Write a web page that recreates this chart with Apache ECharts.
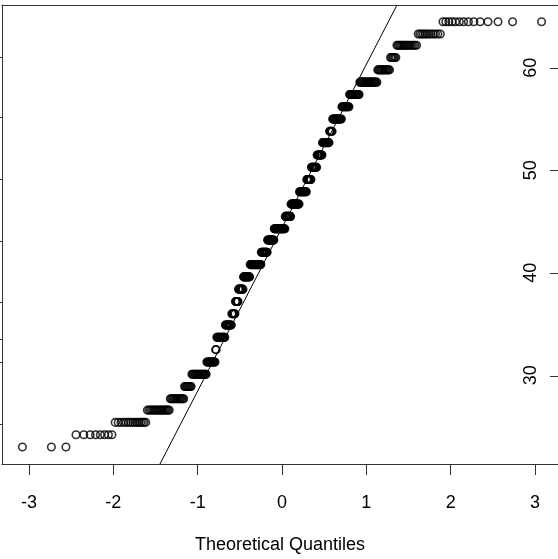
<!DOCTYPE html>
<html>
<head>
<meta charset="utf-8">
<title>Normal Q-Q Plot</title>
<script src="https://cdn.jsdelivr.net/npm/echarts@6/dist/echarts.min.js"></script>
<style>
  html, body { margin: 0; padding: 0; background: #fff; }
  #chart { width: 558px; height: 559px; }
</style>
</head>
<body>
<div id="chart"></div>
<script>
// Distinct sample values (sorted) and how many observations sit at each one.
const sampleLevels = [
  23.0, 24.2, 25.4, 26.6, 27.7, 28.9, 30.1, 31.3, 32.5, 33.7,
  34.9, 36.0, 37.2, 38.4, 39.6, 40.8, 42.0, 43.2, 44.3, 45.5,
  46.7, 47.9, 49.1, 50.3, 51.5, 52.7, 53.8, 55.0, 56.2, 57.4,
  58.6, 59.8, 61.0, 62.2, 63.3, 64.5
];
const sampleCounts = [
  3, 8, 15, 18, 15, 9, 21, 14, 2, 15,
  12, 7, 6, 10, 14, 24, 14, 15, 25, 13,
  19, 16, 10, 12, 11, 14, 6, 17, 13, 16,
  24, 14, 6, 16, 12, 14
];

// Reference line: two points on it (theoretical quantile, sample value).
const refLineQ = [-1.447, 1.364];
const refLineV = [21.34, 66.13];

// Axis ticks and labels.
const xTicks = [-3, -2, -1, 0, 1, 2, 3];
const yTicks = [30, 40, 50, 60];
const leftTicks = [25.24, 31.28, 33.52, 37.12, 43.06, 49.09, 55.13, 61.07];
const xTitle = 'Theoretical Quantiles';

// Inverse standard normal CDF (Acklam's rational approximation).
function qnorm(p) {
  const a = [-3.969683028665376e+01, 2.209460984245205e+02, -2.759285104469687e+02,
             1.383577518672690e+02, -3.066479806614716e+01, 2.506628277459239e+00];
  const b = [-5.447609879822406e+01, 1.615858368580409e+02, -1.556989798598866e+02,
             6.680131188771972e+01, -1.328068155288572e+01];
  const c = [-7.784894002430293e-03, -3.223964580411365e-01, -2.400758277161838e+00,
             -2.549732539343734e+00, 4.374664141464968e+00, 2.938163982698783e+00];
  const d = [7.784695709041462e-03, 3.224671290700398e-01, 2.445134137142996e+00,
             3.754408661907416e+00];
  const pl = 0.02425, ph = 1 - pl;
  let q, r;
  if (p < pl) {
    q = Math.sqrt(-2 * Math.log(p));
    return (((((c[0]*q+c[1])*q+c[2])*q+c[3])*q+c[4])*q+c[5]) /
           ((((d[0]*q+d[1])*q+d[2])*q+d[3])*q+1);
  }
  if (p <= ph) {
    q = p - 0.5; r = q * q;
    return (((((a[0]*r+a[1])*r+a[2])*r+a[3])*r+a[4])*r+a[5])*q /
           (((((b[0]*r+b[1])*r+b[2])*r+b[3])*r+b[4])*r+1);
  }
  q = Math.sqrt(-2 * Math.log(1 - p));
  return -(((((c[0]*q+c[1])*q+c[2])*q+c[3])*q+c[4])*q+c[5]) /
          ((((d[0]*q+d[1])*q+d[2])*q+d[3])*q+1);
}

// Expand the sorted sample and pair each value with its plotting position.
const sorted = [];
sampleLevels.forEach((v, i) => { for (let k = 0; k < sampleCounts[i]; k++) sorted.push(v); });
const n = sorted.length;
const qqPoints = sorted.map((v, i) => [qnorm((i + 0.5) / n), v]);

const FONT = '"Liberation Sans", Arial, sans-serif';
const AXIS_COLOR = '#333';

const chart = echarts.init(document.getElementById('chart'), null, { renderer: 'canvas' });
chart.setOption({
  animation: false,
  backgroundColor: '#fff',
  grid: [
    // Main plotting panel.
    { left: 2, right: 0, top: 5, bottom: 94, containLabel: false },
    // Narrow strip at the right edge spanning 30..60; its split lines form the value ticks.
    { left: 550, right: 0, top: 68, bottom: 183, containLabel: false }
  ],
  xAxis: [
    {
      gridIndex: 0, type: 'value', position: 'bottom', min: -3.32, max: 3.273,
      axisLine: { show: true, onZero: false, lineStyle: { color: AXIS_COLOR, width: 1 } },
      axisTick: { show: true, customValues: xTicks, length: 11, lineStyle: { color: AXIS_COLOR, width: 1 } },
      axisLabel: { show: true, customValues: xTicks, margin: 30, fontSize: 18, color: '#000', fontFamily: FONT },
      splitLine: { show: false },
      name: xTitle, nameLocation: 'middle', nameGap: 72,
      nameTextStyle: { fontSize: 18, color: '#000', fontFamily: FONT }
    },
    {
      gridIndex: 0, type: 'value', position: 'top', min: -3.32, max: 3.273,
      axisLine: { show: true, onZero: false, lineStyle: { color: AXIS_COLOR, width: 1 } },
      axisTick: { show: false }, axisLabel: { show: false }, splitLine: { show: false }
    },
    {
      gridIndex: 1, type: 'value', min: 0, max: 1, show: false
    }
  ],
  yAxis: [
    {
      gridIndex: 0, type: 'value', position: 'right', min: 21.34, max: 66.13,
      axisLine: { show: false, onZero: false },
      axisTick: { show: false },
      axisLabel: { show: true, inside: true, customValues: yTicks, rotate: 90, margin: 18,
                   fontSize: 18, color: '#000', fontFamily: FONT },
      splitLine: { show: false }
    },
    {
      gridIndex: 0, type: 'value', position: 'left', min: 21.34, max: 66.13,
      axisLine: { show: true, onZero: false, lineStyle: { color: AXIS_COLOR, width: 1 } },
      axisTick: { show: true, customValues: leftTicks, length: 3, lineStyle: { color: AXIS_COLOR, width: 1 } },
      axisLabel: { show: false }, splitLine: { show: false }
    },
    {
      gridIndex: 1, type: 'value', min: yTicks[0], max: yTicks[yTicks.length - 1], interval: 10,
      axisLine: { show: false }, axisTick: { show: false }, axisLabel: { show: false },
      splitLine: { show: true, lineStyle: { color: AXIS_COLOR, width: 1, type: 'solid' } }
    }
  ],
  series: [
    {
      type: 'scatter', xAxisIndex: 0, yAxisIndex: 0,
      data: qqPoints, symbol: 'circle', symbolSize: 7.5,
      itemStyle: { color: 'rgba(0,0,0,0)', borderColor: '#000', borderWidth: 1.6 },
      emphasis: { disabled: true }, silent: true, z: 3
    },
    {
      type: 'line', xAxisIndex: 0, yAxisIndex: 0,
      data: refLineQ.map((q, i) => [q, refLineV[i]]),
      symbol: 'none', clip: true,
      lineStyle: { color: '#000', width: 1 },
      silent: true, z: 2
    }
  ]
});
</script>
</body>
</html>
